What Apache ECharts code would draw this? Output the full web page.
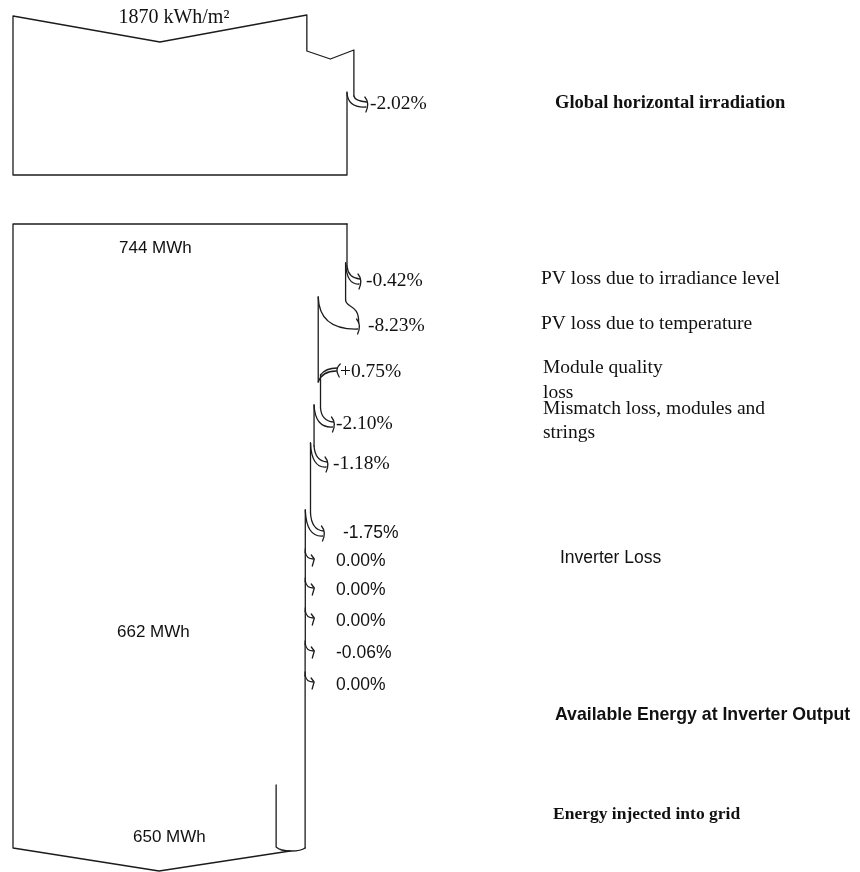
<!DOCTYPE html>
<html><head><meta charset="utf-8">
<script src="https://cdn.jsdelivr.net/npm/echarts@6/dist/echarts.min.js"></script>
<style>html,body{margin:0;padding:0;background:#fff}#c{width:860px;height:872px}</style>
</head><body><div id="c"></div>
<script>
// ---------------- data ----------------
const irradiationText = '1870 kWh/m²';
const irradiationLossPct = -2.02;
const irradiationLossText = '-2.02%';
const startEnergyMWh = 744;
const energyLabels = ['744 MWh', '662 MWh', '650 MWh'];
const lossPct = [-0.42, -8.23, 0.75, -2.10, -1.18, -1.75, 0.00, 0.00, 0.00, -0.06, 0.00];
const lossLabels = ['-0.42%', '-8.23%', '+0.75%', '-2.10%', '-1.18%', '-1.75%', '0.00%', '0.00%', '0.00%', '-0.06%', '0.00%'];
const stageTitles = ['Global horizontal irradiation', 'Available Energy at Inverter Output', 'Energy injected into grid'];
const lossNames = ['PV loss due to irradiance level', 'PV loss due to temperature', 'Module quality\nloss', 'Mismatch loss, modules and\nstrings', 'Inverter Loss'];

// ---------------- layout / style ----------------
const SERIF = "'Liberation Serif','Times New Roman',serif";
const SANS = "'Liberation Sans',Arial,sans-serif";
const STROKE = '#1c1c1c';
const TXT = '#111';
const LW = 1.3;
const X_MAX = 847 * 744 / 334;          // horizontal scale of the value axis (MWh-equivalent)
const stepY  = [266, 300, 378, 408, 446, 513, 552, 581, 611, 644, 675];
const labelY = [281, 326, 372, 424, 464, 533, 561, 590, 621, 653, 685];
const labelX = [366, 368, 340, 336, 333, 343, 336, 336, 336, 336, 336];
const labelSerif = [true, true, true, true, true, false, false, false, false, false, false];
const topBox = {top: 16, vBottom: 42, bottom: 175, notchFrac: 0.862, notchDepth: 51, notchV: 59, notchRight: 50, lossY: 96, labelY: 104};
const mainBox = {top: 224, bottom: 848, vBottom: 871, vRightY: 851, gridLineTop: 785, gridLineOffset: 29};

// ---------------- derived ----------------
const edges = [startEnergyMWh];
lossPct.forEach((p, i) => edges.push(edges[i] * (1 + p / 100)));
const topFull = startEnergyMWh / (1 + irradiationLossPct / 100);

function sty(){ return {stroke: STROKE, lineWidth: LW, fill: null, lineJoin: 'round', lineCap: 'round'}; }
function ln(points){ return {type: 'polyline', shape: {points}, style: sty()}; }
function pth(d){ return {type: 'path', shape: {pathData: d}, style: sty()}; }
function txt(text, x, y, family, size, weight, align){
  return {type: 'text', style: {text, x, y, fill: TXT, fontFamily: family, fontSize: size, fontWeight: weight || 'normal', align: align || 'left', verticalAlign: 'middle'}};
}
function f(n){ return n.toFixed(2); }

function lossArrow(xo, xn, yS, tipY){
  const tipX = xo + 14;
  const band = xo - xn;
  const outer = band > 12
    ? `M${f(xo)},${f(yS)} C${f(xo)},${f(yS+8)} ${f(tipX)},${f(yS+4)} ${f(tipX-1)},${f(tipY-3)}`
    : `M${f(xo)},${f(yS)} Q${f(xo+1)},${f(tipY-3)} ${f(tipX-1)},${f(tipY-2)}`;
  const inner = `M${f(xn)},${f(yS-3)} Q${f(xn+1)},${f(tipY+4)} ${f(tipX-2)},${f(tipY+3)}`;
  return [
    pth(outer),
    pth(inner),
    pth(`M${f(tipX-3)},${f(tipY-7)} Q${f(tipX+2)},${f(tipY-1)} ${f(tipX-2)},${f(tipY+8)}`)
  ];
}
function gainArrow(xo, xn, yS, tipY){
  const tipX = xo + 18;
  return [
    pth(`M${f(xo)},${f(yS+4)} Q${f(xo+4)},${f(tipY-1)} ${f(tipX)},${f(tipY-1)}`),
    pth(`M${f(xn)},${f(yS-3)} Q${f(xn+5)},${f(tipY-4)} ${f(tipX+1)},${f(tipY-4)}`),
    pth(`M${f(tipX+4)},${f(tipY-8)} Q${f(tipX-2)},${f(tipY-3)} ${f(tipX+3)},${f(tipY+5)}`)
  ];
}
function hook(x, yS){
  return [
    pth(`M${f(x)},${f(yS)} Q${f(x+1)},${f(yS+7)} ${f(x+8)},${f(yS+7)}`),
    ln([[x+6, yS+3], [x+9, yS+7], [x+7, yS+14]])
  ];
}

function renderStep(params, api){
  const i = params.dataIndex;
  const xo = api.coord([edges[i], 0])[0];
  const xn = api.coord([edges[i + 1], 0])[0];
  const yS = api.coord([0, stepY[i]])[1];
  const ly = api.coord([0, labelY[i]])[1];
  const yStart = i === 0 ? api.coord([0, mainBox.top])[1] : api.coord([0, stepY[i - 1]])[1] - 3;
  const band = xo - xn;
  const children = [];
  if (band < -0.5) {
    children.push(ln([[xo, yStart], [xo, yS + 4]]));
    children.push(...gainArrow(xo, xn, yS, ly));
  } else if (band > 1) {
    children.push(ln([[xo, yStart], [xo, yS]]));
    children.push(...lossArrow(xo, xn, yS, ly));
  } else {
    children.push(ln([[xo, yStart], [xo, yS + 1]]));
    children.push(...hook(xo, yS));
  }
  children.push(txt(lossLabels[i], labelX[i], ly, labelSerif[i] ? SERIF : SANS, labelSerif[i] ? 19.5 : 17.5));
  return {type: 'group', children};
}

function renderFrame(params, api){
  const P = (v, y) => api.coord([v, y]);
  const notchStart = topFull * topBox.notchFrac;
  const ch = [];
  // top (irradiation) box
  ch.push(ln([
    P(startEnergyMWh, topBox.lossY - 4), P(startEnergyMWh, topBox.bottom), P(0, topBox.bottom), P(0, topBox.top),
    P(notchStart / 2, topBox.vBottom), P(notchStart, topBox.top - 1), P(notchStart, topBox.notchDepth),
    P((notchStart + topFull) / 2, topBox.notchV), P(topFull, topBox.notchRight), P(topFull, topBox.lossY)
  ]));
  const xo = P(topFull, 0)[0], xn = P(startEnergyMWh, 0)[0];
  ch.push(...lossArrow(xo, xn, topBox.lossY, topBox.labelY));
  ch.push(txt(irradiationLossText, 370, topBox.labelY, SERIF, 19.5));
  ch.push(txt(irradiationText, P(notchStart / 2, 0)[0] + 14, 18, SERIF, 20, 'normal', 'center'));
  // main box
  const eFinal = edges[edges.length - 1];
  const xf = P(eFinal, 0)[0];
  const xg = xf - mainBox.gridLineOffset;
  ch.push(ln([P(startEnergyMWh, mainBox.top), P(0, mainBox.top), P(0, mainBox.bottom), P(eFinal / 2, mainBox.vBottom), [xg + 14, mainBox.vRightY]]));
  ch.push(ln([[xf, stepY[stepY.length - 1] - 3], [xf, mainBox.bottom]]));
  ch.push(pth(`M${f(xg)},${mainBox.gridLineTop} L${f(xg)},${mainBox.bottom - 1} Q${f(xg + 4)},${mainBox.vRightY} ${f(xg + 15)},${mainBox.vRightY} Q${f(xf - 4)},${mainBox.vRightY} ${f(xf)},${mainBox.bottom}`));
  // energy labels
  ch.push(txt(energyLabels[0], 119, 248, SANS, 17));
  ch.push(txt(energyLabels[1], 117, 632, SANS, 17));
  ch.push(txt(energyLabels[2], 133, 837, SANS, 17));
  return {type: 'group', children: ch};
}

const chart = echarts.init(document.getElementById('c'));
chart.setOption({
  animation: false,
  backgroundColor: '#fff',
  grid: {left: 13, right: 0, top: 0, bottom: 0},
  xAxis: {type: 'value', min: 0, max: X_MAX, show: false},
  yAxis: {type: 'value', min: 0, max: 872, inverse: true, show: false},
  graphic: [
    {type: 'text', left: 555, top: 94, style: {text: stageTitles[0], fill: TXT, fontFamily: SERIF, fontSize: 18.5, fontWeight: 'bold'}},
    {type: 'text', left: 541, top: 269, style: {text: lossNames[0], fill: TXT, fontFamily: SERIF, fontSize: 19.5}},
    {type: 'text', left: 541, top: 314, style: {text: lossNames[1], fill: TXT, fontFamily: SERIF, fontSize: 19.5}},
    {type: 'text', left: 543, top: 356, style: {text: lossNames[2], fill: TXT, fontFamily: SERIF, fontSize: 19.5, lineHeight: 24.5}},
    {type: 'text', left: 543, top: 397, style: {text: lossNames[3], fill: TXT, fontFamily: SERIF, fontSize: 19.5, lineHeight: 24}},
    {type: 'text', left: 560, top: 549, style: {text: lossNames[4], fill: TXT, fontFamily: SANS, fontSize: 17.5}},
    {type: 'text', left: 555, top: 706, style: {text: stageTitles[1], fill: TXT, fontFamily: SANS, fontSize: 17.7, fontWeight: 'bold'}},
    {type: 'text', left: 553, top: 805, style: {text: stageTitles[2], fill: TXT, fontFamily: SERIF, fontSize: 17.5, fontWeight: 'bold'}}
  ],
  series: [
    {type: 'custom', name: 'frame', silent: true, renderItem: renderFrame, data: [[0, 0]], encode: {x: 0, y: 1}},
    {type: 'custom', name: 'losses', silent: true, renderItem: renderStep,
     data: lossPct.map((p, i) => [edges[i + 1], stepY[i], p]), encode: {x: 0, y: 1}}
  ]
});
</script>
</body></html>
